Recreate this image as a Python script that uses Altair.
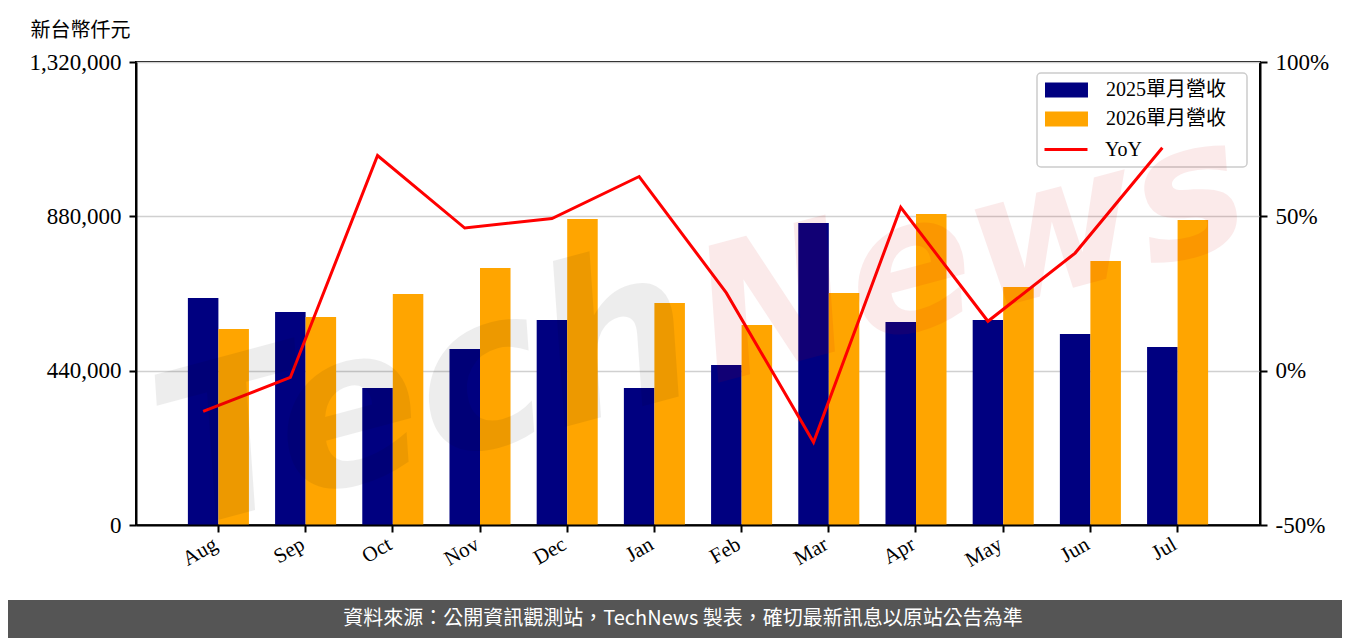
import altair as alt
import pandas as pd

# ---------------- data ----------------
months = ["Aug", "Sep", "Oct", "Nov", "Dec", "Jan", "Feb", "Mar", "Apr", "May", "Jun", "Jul"]
rev_2025 = [647200, 607300, 390600, 501800, 584500, 390600, 456200, 861000, 578800, 584500, 544600, 507500]
rev_2026 = [558800, 593000, 658600, 732700, 872400, 632900, 570200, 661400, 886700, 678500, 752700, 869600]
yoy = [-13.2, -2.2, 69.7, 46.2, 49.3, 62.9, 25.2, -23.2, 52.9, 16.0, 38.1, 72.2]
series = ["2025單月營收", "2026單月營收"]
line_label = "YoY"
left_ticks = [0, 440000, 880000, 1320000]
right_ticks = [-50, 0, 50, 100]
y_title = "新台幣仟元"
footer = "資料來源：公開資訊觀測站，TechNews 製表，確切最新訊息以原站公告為準"
wm_1 = "Tech"
wm_2 = "News"

bars_df = pd.DataFrame({
    "month": months * 2,
    "series": [series[0]] * len(months) + [series[1]] * len(months),
    "value": rev_2025 + rev_2026,
})
line_df = pd.DataFrame({"month": months, "yoy": yoy, "name": [line_label] * len(months)})
one = pd.DataFrame({"k": [0]})

SERIF = "Liberation Serif, Noto Sans CJK TC"
CJK = "Noto Sans CJK TC"

xscale = alt.Scale(domain=months, paddingInner=0.3, paddingOuter=0.595)

x_axis = alt.Axis(
    title=None, labelAngle=330, labelAlign="right", labelBaseline="top",
    labelFont=SERIF, labelFontSize=21, labelColor="black", labelPadding=1, labelOffset=-8,
    tickColor="black", tickWidth=2, tickSize=7,
    domainColor="black", domainWidth=2, zindex=1,
)

# footer band
footer_rect = alt.Chart(one).mark_rect(color="#555555").encode(
    x=alt.value(-128), x2=alt.value(1206), y=alt.value(538), y2=alt.value(576)
)
footer_text = alt.Chart(one).mark_text(
    color="white", font=CJK, fontSize=20, align="center", baseline="middle"
).encode(x=alt.value(547), y=alt.value(557), text=alt.value(footer))

# legend frame
frame = alt.Chart(one).mark_rect(
    fill="white", fillOpacity=0.8, stroke="#cccccc", strokeWidth=1.5, cornerRadius=4
).encode(x=alt.value(901), x2=alt.value(1111), y=alt.value(11), y2=alt.value(105))

bars = alt.Chart(bars_df).mark_bar().encode(
    x=alt.X("month:N", scale=xscale, axis=x_axis),
    xOffset=alt.XOffset("series:N", scale=alt.Scale(domain=series)),
    y=alt.Y(
        "value:Q",
        scale=alt.Scale(domain=[0, 1320000], nice=False),
        axis=alt.Axis(
            values=left_ticks, format=",d", title=y_title,
            titleAngle=0, titleX=-106, titleY=-42, titleAlign="left", titleBaseline="top",
            titleFont=CJK, titleFontSize=20, titleFontWeight="normal", titleColor="black",
            labelFont=SERIF, labelFontSize=23, labelColor="black", labelPadding=8,
            tickColor="black", tickWidth=2, tickSize=7,
            domainColor="black", domainWidth=2,
            grid=True, gridColor="#d0d0d0", gridWidth=1.5,
        ),
    ),
    fill=alt.Fill(
        "series:N",
        scale=alt.Scale(domain=series, range=["#000080", "#ffa500"]),
        legend=alt.Legend(
            title=None, orient="none", legendX=898, legendY=17, padding=0,
            symbolType="M0,-0.7H4V0.7H0Z", symbolSize=462, symbolStrokeWidth=0,
            labelFont=SERIF, labelFontSize=20, labelColor="black", labelOffset=50,
            rowPadding=8,
        ),
    ),
)

line = alt.Chart(line_df).mark_line(strokeWidth=3).encode(
    x=alt.X("month:N", scale=xscale, bandPosition=0.25, title=None),
    y=alt.Y(
        "yoy:Q",
        scale=alt.Scale(domain=[-50, 100], nice=False),
        axis=alt.Axis(
            orient="right", values=right_ticks, labelExpr="datum.value + '%'", title=None,
            labelFont=SERIF, labelFontSize=23, labelColor="black", labelPadding=8,
            tickColor="black", tickWidth=2, tickSize=7,
            domainColor="black", domainWidth=2, grid=False, zindex=1,
        ),
    ),
    stroke=alt.Stroke(
        "name:N",
        scale=alt.Scale(domain=[line_label], range=["#ff0000"]),
        legend=alt.Legend(
            title=None, orient="none", legendX=896, legendY=75, padding=0,
            symbolType="M0,0H4", symbolSize=462, symbolStrokeWidth=3,
            symbolFillColor="transparent",
            labelFont=SERIF, labelFontSize=20, labelColor="black", labelOffset=48,
        ),
    ),
)

wm_tech = alt.Chart(one).mark_text(
    font="DejaVu Sans", fontSize=215, fontWeight="bold", fontStyle="italic",
    color="black", opacity=0.065, angle=345, align="center", baseline="middle",
).encode(x=alt.value(290), y=alt.value(335), text=alt.value(wm_1))

wm_news = alt.Chart(one).mark_text(
    font="DejaVu Sans", fontSize=185, fontWeight="bold", fontStyle="italic",
    color="#d00000", opacity=0.08, angle=345, align="center", baseline="middle",
).encode(x=alt.value(835), y=alt.value(195), text=alt.value(wm_2))

chart = alt.layer(
    footer_rect, footer_text, frame, bars, line, wm_tech, wm_news
).resolve_scale(
    y="independent"
).properties(
    width=1124, height=463,
    padding={"left": 128, "top": 54, "right": 82, "bottom": 113},
    autosize=alt.AutoSizeParams(type="none"),
    background="white",
).configure_view(
    stroke="black", strokeWidth=2
)

chart.save("out.html", embed_options={"renderer": "svg", "actions": False})
